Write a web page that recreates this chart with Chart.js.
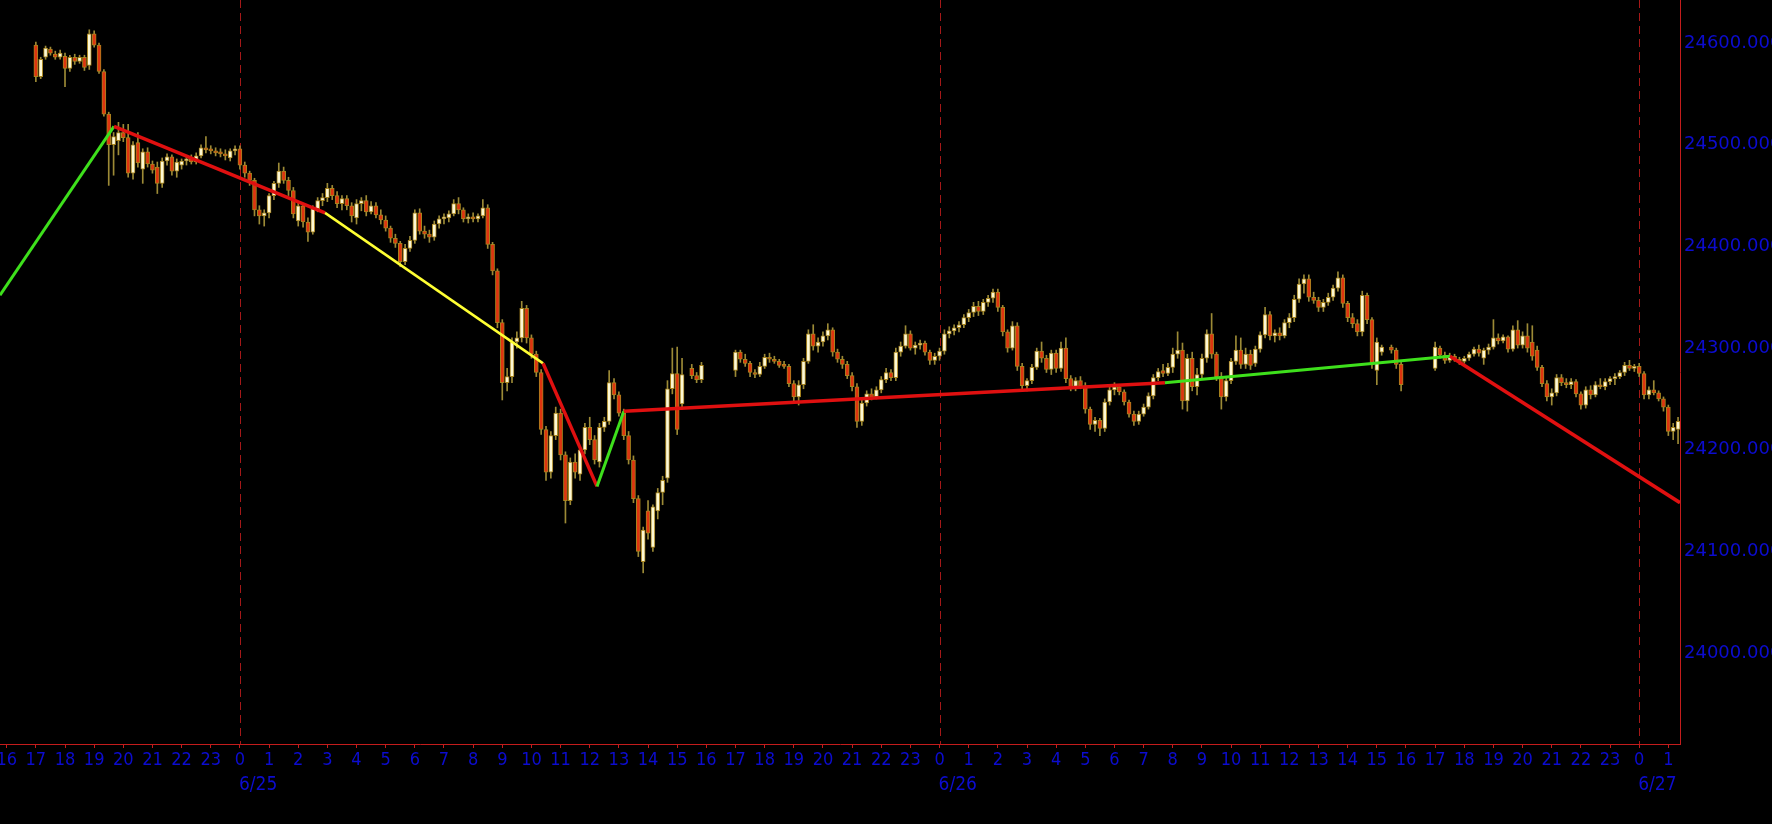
<!DOCTYPE html>
<html>
<head>
<meta charset="utf-8">
<script src="https://cdn.jsdelivr.net/npm/chart.js@4/dist/chart.umd.min.js"></script>
<style>
  html, body { margin: 0; padding: 0; background: #000; }
  canvas { display: block; }
</style>
</head>
<body>
<canvas id="chart" width="1772" height="824"></canvas>
<script>
// Dow futures, 10-minute candles, hours counted from 6/25 00:00 (CT)

// trading sessions [first bar, last bar] in hours, and the 15:20 halt slots
const sessions = [[-7, 15 + 50 / 60], [17, 39 + 50 / 60], [41, 49 + 20 / 60]];
const halts = [15 + 20 / 60, 39 + 20 / 60];

const dayTicks = [0, 24, 48];
const dayLabels = ['6/25', '6/26', '6/27'];

const opens = [
  24598, 24567, 24586, 24594, 24589, 24586,
  24587, 24575, 24586, 24582, 24586, 24578,
  24609, 24598, 24572, 24530, 24500, 24504,
  24512, 24507, 24472, 24502, 24476, 24493,
  24481, 24478, 24462, 24484, 24488, 24474,
  24480, 24484, 24486, 24483, 24489, 24497,
  24495, 24494, 24492, 24491, 24487, 24494,
  24496, 24480, 24472, 24465, 24436, 24430,
  24433, 24450, 24462, 24474, 24465, 24455,
  24425, 24440, 24424, 24414, 24437, 24445,
  24448, 24457, 24450, 24442, 24447, 24440,
  24428, 24442, 24445, 24434, 24440, 24431,
  24426, 24418, 24408, 24403, 24385, 24398,
  24406, 24433, 24415, 24412, 24409, 24422,
  24427, 24428, 24432, 24442, 24436, 24427,
  24429, 24427, 24430, 24438, 24402, 24376,
  24325, 24266, 24272, 24306, 24310, 24339,
  24310, 24294, 24276, 24220, 24178, 24214,
  24236, 24195, 24150, 24188, 24176, 24200,
  24222, 24210, 24188, 24222, 24228, 24266,
  24254, 24236, 24214, 24190, 24152, 24090,
  24140, 24104, 24140, 24158, 24172, 24260,
  24275, 24245, 24280, 24273, 24269,
  24278, 24296, 24289, 24285, 24276, 24274,
  24282, 24291, 24289, 24287, 24283, 24282,
  24265, 24252, 24264, 24287, 24314, 24302,
  24306, 24312, 24318, 24296, 24289, 24284,
  24273, 24262, 24228, 24246, 24255, 24252,
  24259, 24269, 24276, 24271, 24296, 24302,
  24314, 24300, 24303, 24305, 24296, 24288,
  24292, 24297, 24314, 24317, 24320, 24323,
  24330, 24335, 24341, 24336, 24345, 24349,
  24355, 24340, 24316, 24300, 24322, 24282,
  24263, 24268, 24281, 24297, 24290, 24279,
  24295, 24280, 24300, 24270, 24262, 24268,
  24263, 24240, 24225, 24229, 24221, 24247,
  24259, 24262, 24257, 24247, 24235, 24228,
  24235, 24242, 24253, 24271, 24278, 24275,
  24281, 24294, 24298, 24248, 24290, 24262,
  24274, 24290, 24314, 24294, 24272, 24252,
  24268, 24287, 24298, 24284, 24294, 24285,
  24299, 24313, 24333, 24312, 24315, 24312,
  24325, 24330, 24348, 24363, 24368, 24350,
  24347, 24340, 24345, 24350, 24359, 24369,
  24344, 24330, 24324, 24316, 24352, 24328,
  24278, 24296, 24301, 24298, 24284,
  24280, 24300, 24293, 24288, 24292, 24289,
  24287, 24290, 24294, 24299, 24290, 24298,
  24301, 24310, 24307, 24311, 24299, 24318,
  24303, 24312, 24306, 24298, 24281, 24265,
  24252, 24256, 24271, 24266, 24264, 24267,
  24255, 24244, 24259, 24254, 24264, 24262,
  24267, 24270, 24272, 24276, 24283, 24280,
  24282, 24275, 24254, 24259, 24256, 24250,
  24242, 24218, 24220
];

const highs = [
  24601, 24586, 24597, 24596, 24592, 24593,
  24590, 24588, 24589, 24588, 24588, 24613,
  24612, 24600, 24574, 24532, 24512, 24522,
  24520, 24520, 24503, 24512, 24496, 24497,
  24484, 24483, 24487, 24491, 24490, 24486,
  24486, 24489, 24490, 24492, 24500, 24508,
  24499, 24497, 24496, 24495, 24496, 24499,
  24499, 24483, 24474, 24467, 24440, 24436,
  24452, 24464, 24482, 24478, 24468, 24458,
  24444, 24442, 24428, 24440, 24448, 24452,
  24462, 24460, 24454, 24450, 24450, 24443,
  24446, 24448, 24450, 24444, 24443, 24436,
  24430, 24420, 24412, 24405, 24402, 24410,
  24436, 24437, 24420, 24416, 24425, 24430,
  24432, 24435, 24446, 24448, 24438, 24432,
  24433, 24432, 24446, 24441, 24404, 24378,
  24328, 24280, 24310, 24316, 24346, 24342,
  24313, 24297, 24279, 24223, 24218, 24242,
  24240, 24198, 24192, 24196, 24203, 24226,
  24232, 24214, 24226, 24232, 24278, 24270,
  24257, 24240, 24218, 24194, 24155, 24124,
  24150, 24146, 24162, 24174, 24268, 24300,
  24301, 24290, 24284, 24276, 24286,
  24298, 24298, 24294, 24287, 24279, 24286,
  24294, 24295, 24292, 24289, 24287, 24284,
  24268, 24268, 24290, 24318, 24323, 24310,
  24316, 24324, 24320, 24299, 24292, 24287,
  24276, 24265, 24250, 24258, 24260, 24262,
  24272, 24280, 24279, 24300, 24306, 24322,
  24317, 24306, 24308, 24307, 24298, 24295,
  24300, 24318, 24321, 24323, 24326, 24333,
  24338, 24345, 24346, 24348, 24352, 24358,
  24358, 24342, 24318, 24326, 24325, 24285,
  24270, 24284, 24300, 24306, 24293, 24298,
  24298, 24306, 24310, 24273, 24271, 24272,
  24266, 24242, 24232, 24231, 24250, 24262,
  24266, 24264, 24259, 24249, 24238, 24238,
  24245, 24256, 24274, 24280, 24284, 24285,
  24300, 24316, 24305, 24294, 24296, 24280,
  24294, 24318, 24334, 24296, 24276, 24272,
  24290, 24312, 24310, 24300, 24298, 24302,
  24316, 24340, 24336, 24318, 24320, 24328,
  24334, 24352, 24368, 24372, 24372, 24355,
  24350, 24348, 24354, 24362, 24375, 24372,
  24346, 24334, 24328, 24356, 24354, 24330,
  24310, 24303, 24303, 24300, 24286,
  24306, 24302, 24296, 24295, 24294, 24291,
  24292, 24296, 24301, 24303, 24300, 24304,
  24328, 24314, 24313, 24312, 24322, 24327,
  24316, 24324, 24322, 24302, 24283, 24268,
  24260, 24274, 24274, 24270, 24270, 24269,
  24257, 24262, 24263, 24267, 24270, 24270,
  24272, 24275, 24278, 24286, 24288, 24284,
  24285, 24277, 24262, 24268, 24258, 24252,
  24244, 24226, 24232
];

const lows = [
  24562, 24565, 24584, 24588, 24584, 24584,
  24557, 24572, 24579, 24580, 24573, 24574,
  24596, 24570, 24528, 24460, 24470, 24490,
  24503, 24468, 24466, 24478, 24462, 24478,
  24472, 24452, 24458, 24480, 24470, 24468,
  24476, 24480, 24481, 24481, 24487, 24492,
  24491, 24489, 24488, 24485, 24484, 24490,
  24476, 24468, 24460, 24430, 24422, 24420,
  24428, 24446, 24458, 24462, 24450, 24428,
  24420, 24419, 24405, 24412, 24434, 24440,
  24444, 24446, 24438, 24436, 24436, 24424,
  24422, 24435, 24430, 24432, 24428, 24422,
  24415, 24404, 24399, 24380, 24382, 24395,
  24403, 24412, 24408, 24404, 24406, 24418,
  24422, 24424, 24430, 24432, 24424, 24423,
  24424, 24424, 24428, 24398, 24372, 24320,
  24249, 24258, 24266, 24300, 24306, 24305,
  24290, 24272, 24215, 24170, 24172, 24210,
  24190, 24128, 24146, 24172, 24170, 24196,
  24205, 24186, 24183, 24218, 24225, 24250,
  24233, 24210, 24186, 24148, 24095, 24079,
  24112, 24100, 24132, 24146, 24168, 24255,
  24215, 24240, 24270, 24266, 24266,
  24272, 24286, 24282, 24272, 24271, 24272,
  24280, 24286, 24285, 24281, 24280, 24262,
  24248, 24244, 24260, 24285, 24298, 24296,
  24302, 24308, 24292, 24286, 24280, 24270,
  24258, 24222, 24224, 24243, 24249, 24250,
  24256, 24266, 24268, 24268, 24292, 24300,
  24298, 24294, 24299, 24293, 24284, 24284,
  24288, 24294, 24310, 24313, 24316, 24320,
  24326, 24331, 24332, 24333, 24341, 24345,
  24336, 24312, 24296, 24298, 24278, 24258,
  24258, 24265, 24279, 24286, 24276, 24274,
  24276, 24277, 24266, 24258, 24258, 24260,
  24236, 24220, 24218, 24214, 24218, 24244,
  24254, 24254, 24244, 24232, 24224, 24225,
  24233, 24240, 24250, 24268, 24272, 24273,
  24276, 24290, 24240, 24238, 24258, 24254,
  24270, 24286, 24290, 24268, 24240, 24248,
  24265, 24284, 24280, 24280, 24279, 24282,
  24296, 24310, 24308, 24306, 24308, 24310,
  24320, 24326, 24345, 24354, 24346, 24344,
  24336, 24336, 24342, 24347, 24356, 24340,
  24326, 24320, 24312, 24312, 24324, 24280,
  24264, 24293, 24295, 24280, 24258,
  24278, 24290, 24285, 24286, 24287, 24284,
  24285, 24288, 24292, 24292, 24284, 24294,
  24299, 24304, 24305, 24296, 24297, 24300,
  24300, 24296, 24288, 24278, 24262, 24248,
  24244, 24253, 24263, 24261, 24260, 24252,
  24240, 24241, 24250, 24252, 24260, 24259,
  24264, 24264, 24270, 24273, 24278, 24277,
  24272, 24250, 24250, 24254, 24248, 24238,
  24214, 24210, 24206
];

const closes = [
  24567, 24584, 24595, 24590, 24586, 24590,
  24575, 24586, 24582, 24586, 24576, 24609,
  24598, 24572, 24530, 24500, 24508, 24512,
  24507, 24472, 24500, 24482, 24493, 24481,
  24475, 24462, 24484, 24488, 24474, 24483,
  24484, 24486, 24483, 24489, 24497, 24495,
  24494, 24492, 24491, 24489, 24494, 24496,
  24480, 24472, 24465, 24436, 24430, 24433,
  24450, 24462, 24474, 24465, 24455, 24432,
  24440, 24424, 24414, 24437, 24445, 24448,
  24457, 24450, 24442, 24447, 24440, 24430,
  24442, 24445, 24434, 24440, 24431, 24426,
  24418, 24408, 24403, 24385, 24398, 24406,
  24433, 24415, 24412, 24409, 24422, 24427,
  24428, 24432, 24442, 24436, 24427, 24429,
  24427, 24430, 24438, 24402, 24376, 24325,
  24266, 24272, 24306, 24310, 24339, 24310,
  24294, 24276, 24220, 24178, 24214, 24236,
  24195, 24150, 24188, 24178, 24200, 24222,
  24210, 24190, 24222, 24228, 24266, 24254,
  24236, 24214, 24190, 24152, 24100, 24121,
  24118, 24144, 24158, 24170, 24260, 24275,
  24220, 24274, 24273, 24269, 24283,
  24296, 24289, 24285, 24276, 24274, 24282,
  24291, 24289, 24287, 24283, 24282, 24265,
  24252, 24264, 24287, 24314, 24302, 24306,
  24312, 24318, 24296, 24289, 24284, 24273,
  24262, 24228, 24246, 24255, 24252, 24259,
  24269, 24276, 24271, 24296, 24302, 24314,
  24300, 24303, 24305, 24296, 24288, 24292,
  24297, 24314, 24317, 24320, 24323, 24330,
  24335, 24341, 24336, 24345, 24349, 24355,
  24340, 24316, 24300, 24322, 24282, 24263,
  24268, 24281, 24297, 24290, 24279, 24295,
  24280, 24300, 24270, 24262, 24268, 24263,
  24240, 24225, 24229, 24221, 24247, 24259,
  24262, 24257, 24247, 24235, 24228, 24235,
  24242, 24253, 24271, 24277, 24275, 24281,
  24294, 24298, 24248, 24290, 24262, 24274,
  24290, 24314, 24294, 24272, 24252, 24268,
  24287, 24298, 24284, 24294, 24283, 24299,
  24313, 24333, 24312, 24315, 24312, 24325,
  24330, 24348, 24363, 24368, 24350, 24347,
  24340, 24345, 24350, 24359, 24369, 24344,
  24330, 24324, 24316, 24352, 24328, 24284,
  24306, 24301, 24298, 24284, 24264,
  24301, 24293, 24288, 24292, 24289, 24287,
  24290, 24294, 24299, 24295, 24298, 24301,
  24310, 24307, 24311, 24299, 24318, 24303,
  24312, 24300, 24292, 24281, 24265, 24252,
  24256, 24271, 24266, 24264, 24267, 24255,
  24244, 24259, 24254, 24264, 24262, 24267,
  24270, 24272, 24276, 24283, 24280, 24282,
  24275, 24254, 24259, 24256, 24250, 24242,
  24218, 24222, 24228
];

// zigzag trend line: pivots and the colour of each leg
const zigzagHours = [-8.23, -4.32, 2.92, 10.4, 12.25, 13.17, 31.73, 41.51, 49.4];
const zigzagValues = [24352, 24518, 24433, 24285, 24164, 24238, 24266, 24292, 24148];
const zigzagColors = ['#3ee01c', '#e01010', '#ffff33', '#e01010', '#3ee01c', '#e01010', '#3ee01c', '#e01010'];
const zigzagWidths = [3, 3.5, 2.5, 3.5, 3, 3.5, 3, 3.5];

const X_MIN = -8.23, X_MAX = 49.4;
const Y_MIN = 23910.7, Y_MAX = 24642.3;

const AXIS_RED = '#c41c1c';
const DAY_RED = '#a51818';
const LABEL_BLUE = '#0c0cd0';
const UP_FILL = '#fdf8d4';
const DOWN_FILL = '#de3410';
const BODY_EDGE = '#a8841e';
const WICK = '#9c8a36';
const HOUR_FAMILY = '"DejaVu Sans Condensed", "Liberation Sans Narrow", "DejaVu Sans", sans-serif';

// ---------- bar times from the session table ----------
const barHours = [];
sessions.forEach(([a, b]) => {
  for (let m = Math.round(a * 60); m <= Math.round(b * 60); m += 10) {
    if (halts.some((h) => Math.abs(h * 60 - m) < 1)) continue;
    barHours.push(m / 60);
  }
});
const n = Math.min(barHours.length, opens.length, highs.length, lows.length, closes.length);

const wickData = [], bodyData = [];
for (let i = 0; i < n; i++) {
  wickData.push({ x: barHours[i], y: [lows[i], highs[i]] });
  bodyData.push({ x: barHours[i], y: [opens[i], closes[i]] });
}
const zigzagData = zigzagHours.map((t, i) => ({ x: t, y: zigzagValues[i] }));

// day separators and the date under each midnight tick
const dayMarks = {
  id: 'dayMarks',
  beforeDatasetsDraw(chart) {
    const { ctx, chartArea: a, scales: { x } } = chart;
    ctx.save();
    ctx.strokeStyle = DAY_RED;
    ctx.lineWidth = 1;
    ctx.setLineDash([8, 5]);
    dayTicks.forEach((t) => {
      const px = Math.round(x.getPixelForValue(t)) + 0.5;
      ctx.beginPath();
      ctx.moveTo(px, a.top);
      ctx.lineTo(px, a.bottom);
      ctx.stroke();
    });
    ctx.restore();
  },
  afterDraw(chart) {
    const { ctx, chartArea: a, scales: { x } } = chart;
    ctx.save();
    ctx.fillStyle = LABEL_BLUE;
    ctx.font = '19px ' + HOUR_FAMILY;
    ctx.textAlign = 'left';
    ctx.textBaseline = 'middle';
    dayTicks.forEach((t, i) => {
      ctx.fillText(dayLabels[i], x.getPixelForValue(t) - 1, a.bottom + 41);
    });
    ctx.restore();
  }
};

new Chart(document.getElementById('chart'), {
  type: 'bar',
  data: {
    datasets: [
      {
        type: 'line',
        data: zigzagData,
        borderColor: '#e01010',
        borderWidth: 3,
        pointRadius: 0,
        tension: 0,
        segment: {
          borderColor: (c) => zigzagColors[c.p0DataIndex],
          borderWidth: (c) => zigzagWidths[c.p0DataIndex]
        },
        order: 0
      },
      {
        data: bodyData,
        backgroundColor: (c) => (closes[c.dataIndex] >= opens[c.dataIndex] ? UP_FILL : DOWN_FILL),
        borderColor: BODY_EDGE,
        borderWidth: 1,
        borderSkipped: false,
        barThickness: 4,
        minBarLength: 2,
        grouped: false,
        order: 1
      },
      {
        data: wickData,
        backgroundColor: WICK,
        barThickness: 1,
        grouped: false,
        order: 2
      }
    ]
  },
  options: {
    responsive: false,
    animation: false,
    events: [],
    layout: { autoPadding: false, padding: 0 },
    plugins: { legend: { display: false }, tooltip: { enabled: false } },
    scales: {
      x: {
        type: 'linear',
        min: X_MIN,
        max: X_MAX,
        offset: false,
        grid: { display: true, offset: false, drawOnChartArea: false, drawTicks: true, tickLength: 4, color: AXIS_RED },
        border: { display: true, color: AXIS_RED, width: 1 },
        ticks: {
          stepSize: 1,
          includeBounds: false,
          autoSkip: false,
          maxRotation: 0,
          minRotation: 0,
          padding: 2,
          color: LABEL_BLUE,
          font: { family: HOUR_FAMILY, size: 18 },
          callback: (v) => String(((Math.round(v) % 24) + 24) % 24)
        },
        afterFit: (s) => { s.height = 80; s.paddingLeft = 0; s.paddingRight = 0; }
      },
      y: {
        type: 'linear',
        position: 'right',
        min: Y_MIN,
        max: Y_MAX,
        grid: { display: false, drawTicks: false, tickLength: 0 },
        border: { display: true, color: AXIS_RED, width: 1 },
        ticks: {
          stepSize: 100,
          includeBounds: false,
          padding: 4,
          color: LABEL_BLUE,
          font: { family: '"DejaVu Sans", Verdana, sans-serif', size: 18 },
          callback: (v) => Number(v).toFixed(3)
        },
        afterFit: (s) => { s.width = 92; s.paddingTop = 0; s.paddingBottom = 0; }
      }
    }
  },
  plugins: [dayMarks]
});
</script>
</body>
</html>
